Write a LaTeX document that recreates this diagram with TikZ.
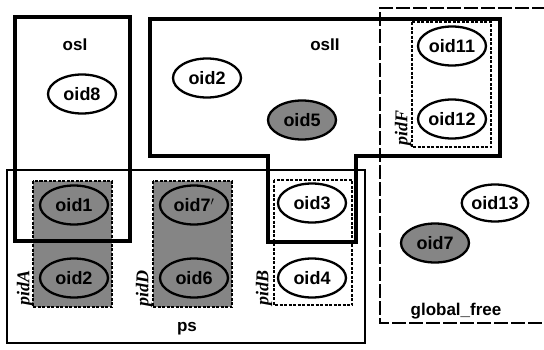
\documentclass[tikz,border=0pt]{standalone}
\usepackage{fontspec}
\setmainfont{Liberation Sans}
\newfontfamily\pidfont{Liberation Serif}
\usetikzlibrary{shapes.geometric}
\tikzset{
  osbox/.style={line width=3.2pt, line join=miter},
  psbox/.style={line width=1.8pt},
  gfbox/.style={line width=2.8pt, dash pattern=on 14pt off 3pt},
  pidbox/.style={line width=1.8pt, dash pattern=on 3pt off 1.5pt},
  pidshade/.style={pidbox, fill=black!48},
  oid/.style={ellipse, draw, line width=2.3pt, fill=white, inner sep=0pt,
              minimum width=68pt, minimum height=39pt,
              font=\fontsize{18}{18}\selectfont\bfseries},
  oidsh/.style={oid, fill=black!48},
  lbl/.style={font=\fontsize{17}{17}\selectfont\bfseries, inner sep=0pt},
  pidlbl/.style={font=\fontsize{18}{18}\selectfont\pidfont\bfseries\itshape, rotate=90, inner sep=0pt}
}
\begin{document}
\begin{tikzpicture}[x=1pt,y=-1pt]
\useasboundingbox (0,0) rectangle (544,349);
% ps
\draw[psbox] (7,170) rectangle (365,343);
% pid boxes
\draw[pidshade] (33,181) rectangle (112,307);
\draw[pidshade] (153,181) rectangle (232,307);
\draw[pidbox] (274,180) rectangle (352,305);
\draw[pidbox] (412,22) rectangle (491,147);
% global_free
\draw[gfbox] (546,8) -- (380,8) -- (380,323) -- (546,323);
% osI
\draw[osbox] (15,17) rectangle (130,241);
% osII
\draw[osbox] (150,19) -- (500,19) -- (500,156) -- (356,156) -- (356,242)
  -- (268,242) -- (268,156) -- (150,156) -- cycle;
% ellipses
\node[oid]   (o8)  at (82,94)  {oid8};
\node[oid]   (o2t) at (207,78) {oid2};
\node[oidsh] (o5)  at (302,120) {oid5};
\node[oid]   (o11) at (452,46) {oid11};
\node[oid]   (o12) at (452,119) {oid12};
\node[oidsh] (o1)  at (74,205) {oid1};
\node[oidsh] (o2b) at (74,278) {oid2};
\node[oidsh] (o7s) at (194,205) {oid7$'$};
\node[oidsh] (o6)  at (194,278) {oid6};
\node[oid]   (o3)  at (312,203) {oid3};
\node[oid]   (o4)  at (312,278) {oid4};
\node[oid, minimum width=62pt, minimum height=37pt] (o13) at (495,203) {oid13};
\node[oidsh] (o7)  at (435,243) {oid7};
% labels
\node[lbl] (losI)  at (75,45)  {osI};
\node[lbl] (losII) at (325,45) {osII};
\node[lbl] (lps)   at (187,329) {ps};
\node[lbl] (lgf)   at (456,311) {global\_free};
\node[pidlbl] (lpA) at (25,288) {pidA};
\node[pidlbl] (lpD) at (144,288) {pidD};
\node[pidlbl] (lpB) at (264,288) {pidB};
\node[pidlbl] (lpF) at (403,128) {pidF};
\end{tikzpicture}
\end{document}
